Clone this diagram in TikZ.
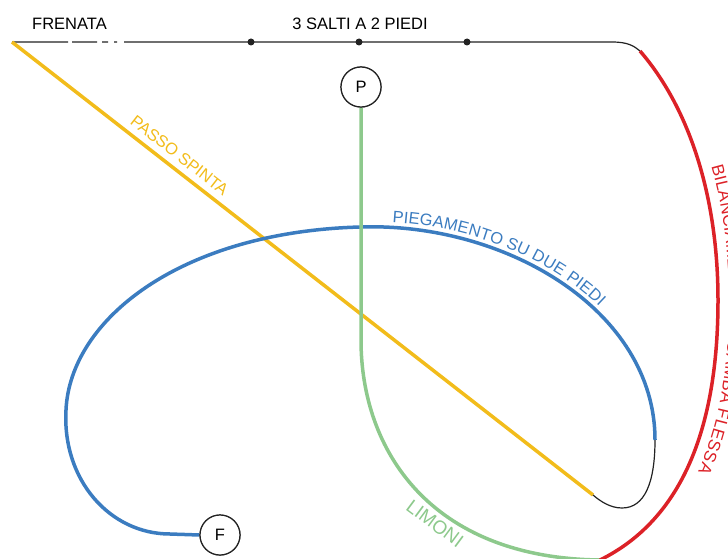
\documentclass[tikz,border=0pt]{standalone}
\usepackage{fontspec}
\setmainfont{Liberation Sans}
\usetikzlibrary{decorations.text}

\definecolor{spinta}{HTML}{F2BC1B}
\definecolor{pieg}{HTML}{3B7CC0}
\definecolor{limoni}{HTML}{8DC98C}
\definecolor{bilan}{HTML}{DC2127}
\definecolor{ink}{HTML}{222222}

\tikzset{
  lbl/.style={font=\fontsize{16.5}{19}\selectfont, inner sep=1pt},
  thinline/.style={line width=1.2pt, draw=ink},
  yellowline/.style={line width=3.5pt, draw=spinta},
  blueline/.style={line width=3.5pt, draw=pieg},
  greenline/.style={line width=3.5pt, draw=limoni},
  redline/.style={line width=3.5pt, draw=bilan},
  dot/.style={circle, fill=ink, inner sep=0pt, minimum size=7pt},
  station/.style={circle, draw=ink, line width=1.2pt, fill=white, minimum size=40pt,
                  inner sep=0pt, font=\fontsize{16.5}{19}\selectfont},
}

\begin{document}
\begin{tikzpicture}[x=1pt, y=-1pt]
  \useasboundingbox (0,0) rectangle (728,559);
  \clip (0,0) rectangle (728,559);

  % key points of the route
  \coordinate (start) at (12,42);
  \coordinate (topend) at (612,42);
  \coordinate (redtop) at (640,51);
  \coordinate (redmid) at (718,300);
  \coordinate (bottom) at (600,560);
  \coordinate (spintaend) at (593,495);
  \coordinate (bluetop) at (360,227);
  \coordinate (blueend) at (655,440);
  \coordinate (blueleft) at (66,410);
  \coordinate (bluelow) at (170,534);
  \coordinate (greenbend) at (361,340);

  % top line: braking then three jumps
  \draw[thinline, dash pattern=on 56pt off 4pt on 25pt off 5pt on 6pt off 6pt on 3pt off 7pt on 2000pt]
    (start) -- (topend) .. controls (628,42) and (634,46) .. (redtop);
  \node[dot] (s1) at (251,42) {};
  \node[dot] (s2) at (359,42) {};
  \node[dot] (s3) at (467,42) {};
  \node[lbl, anchor=base west] (frenata) at (31,30) {FRENATA};
  \node[lbl, anchor=base] (salti) at (360,30) {3 SALTI A 2 PIEDI};

  % push step
  \draw[yellowline] (start) -- node[lbl, pos=0.274, sloped, above=5pt, text=spinta] (spintalbl) {PASSO SPINTA} (spintaend);

  % stations
  \node[station] (P) at (361,87) {P};
  \node[station] (F) at (220,535) {F};

  % squat on both feet
  \draw[blueline] (F.west) -- (bluelow)
    .. controls (110,534) and (62,480) .. (blueleft)
    .. controls (70,320) and (180,232) .. (bluetop)
    .. controls (505,222) and (655,310) .. (blueend);
  \path[decorate, decoration={text along path, raise=5pt,
      text align={left, left indent=32pt},
      text={|\fontsize{16.5}{19}\selectfont\color{pieg}|PIEGAMENTO SU DUE PIEDI}}]
    (bluetop) .. controls (505,222) and (655,310) .. (blueend);

  % link back to the push step
  \draw[thinline] (blueend) .. controls (655,482) and (645,508) .. (622,508)
    .. controls (610,508) and (600,501) .. (spintaend);

  % lemons
  \draw[greenline] (P.south) -- (greenbend)
    .. controls (361,450) and (430,558) .. (bottom)
    node[lbl, pos=0.6, sloped, below=3pt, text=limoni, font=\fontsize{19}{22}\selectfont] (limonilbl) {LIMONI};

  % balance on bent leg
  \draw[redline] (redtop) .. controls (691,110) and (718,200) .. (redmid)
    .. controls (718,430) and (681,520) .. (bottom);
  \path[decorate, decoration={text along path, raise=11pt,
      text align={left, left indent=134pt},
      text={|\fontsize{17}{20}\selectfont\color{bilan}|BILANCIAMENTO SU GAMBA FLESSA}}]
    (redtop) .. controls (691,110) and (718,200) .. (redmid)
    .. controls (718,430) and (681,520) .. (bottom);

  % redraw the stations above the lines
  \node[station] at (P) {P};
  \node[station] at (F) {F};
\end{tikzpicture}
\end{document}
